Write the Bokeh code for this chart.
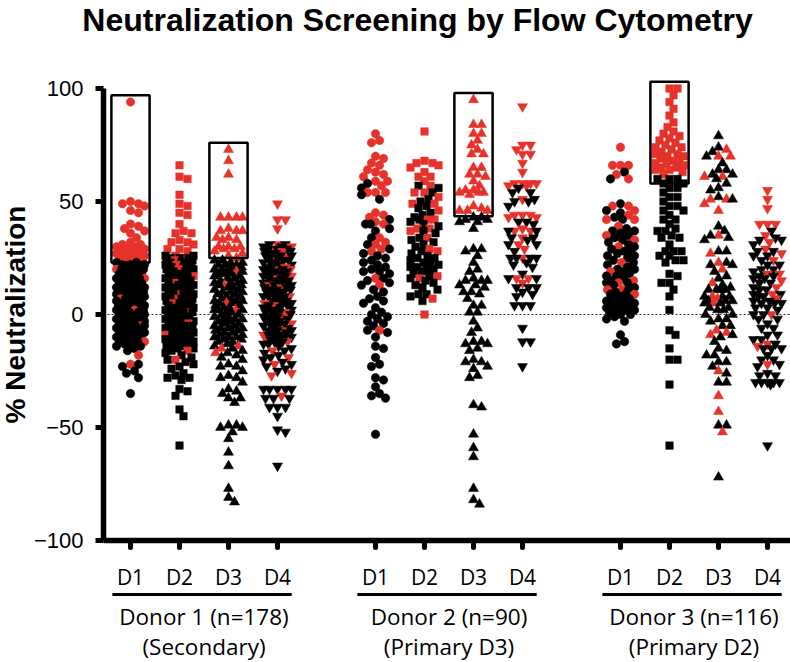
import numpy as np
from bokeh.plotting import figure
from bokeh.models import Range1d, FixedTicker, ColumnDataSource, LinearAxis
from bokeh.core.properties import value
from bokeh.embed import file_html
from bokeh.resources import INLINE

# ---------------- data ----------------
categories = ["D1", "D2", "D3", "D4"]
donor_names = ["Donor 1 (n=178)", "Donor 2 (n=90)", "Donor 3 (n=116)"]
donor_sub = ["(Secondary)", "(Primary D3)", "(Primary D2)"]
title_text = "Neutralization Screening by Flow Cytometry"
y_ticks = [-100, -50, 0, 50, 100]

# Donor 1
d1_D1_red = [94, 50, 49, 49, 48, 46, 45, 40, 39, 38, 37, 36, 34, 32, 31, 31, 30, 30, 29, 29, 28, 28, 27, 27, 26, 26, 25, 25, 24, 24, 23, 20, 16, 7, 2, -5, -12, -18, -22]
d1_D1_black = [23, 23, 22, 22, 22, 21, 21, 20, 20, 20, 19, 19, 18, 18, 18, 17, 17, 16, 16, 16, 15, 15, 14, 14, 14, 13, 13, 12, 12, 12, 11, 11, 10, 10, 10, 9, 9, 8, 8, 8, 7, 7, 6, 6, 6, 5, 5, 4, 4, 4, 3, 3, 2, 2, 2, 1, 1, 0, 0, 0, -1, -1, -2, -2, -2, -3, -3, -4, -4, -4, -5, -5, -6, -6, -6, -7, -7, -8, -8, -8, -9, -9, -10, -10, -10, -11, -11, -12, -12, -13, -13, -14, -14, -15, -16, -22, -23, -25, -26, -28, -35]
d1_D2_red = [66, 61, 60, 53, 49, 48, 45, 44, 40, 37, 36, 36, 33, 32, 32, 31, 29, 29, 28, 26, 25, 24, 22, 20, 17, 14, 9, 7, 5, 1, -4, -9, -16, -20]
d1_D2_black = [26, 26, 25, 25, 25, 24, 24, 23, 23, 23, 22, 22, 21, 21, 21, 20, 20, 19, 19, 19, 18, 18, 17, 17, 17, 16, 16, 15, 15, 15, 14, 14, 13, 13, 13, 12, 12, 11, 11, 11, 10, 10, 9, 9, 9, 8, 8, 7, 7, 7, 6, 6, 5, 5, 5, 4, 4, 3, 3, 3, 2, 2, 1, 1, 1, 0, 0, -1, -1, -1, -2, -2, -3, -3, -3, -4, -4, -5, -5, -5, -6, -6, -7, -7, -7, -8, -8, -9, -9, -9, -10, -10, -11, -11, -11, -12, -12, -13, -13, -14, -14, -15, -15, -16, -17, -18, -19, -20, -21, -22, -23, -24, -26, -27, -28, -28, -29, -33, -34, -36, -42, -45, -58]
d1_D3_red = [73, 68, 62, 43, 43, 43, 43, 38, 37, 37, 37, 34, 34, 33, 33, 30, 30, 30, 29, 29, 28, 27, 26, 25, 19, 13, 5, 2, -14, -15, -17]
d1_D3_black = [24, 24, 23, 23, 22, 22, 22, 21, 21, 20, 20, 19, 19, 18, 18, 18, 17, 17, 16, 16, 15, 15, 14, 14, 14, 13, 13, 12, 12, 11, 11, 10, 10, 10, 9, 9, 8, 8, 7, 7, 6, 6, 6, 5, 5, 4, 4, 3, 3, 2, 2, 2, 1, 1, 0, 0, -1, -1, -2, -2, -2, -3, -3, -4, -4, -5, -5, -6, -6, -6, -7, -7, -8, -8, -9, -9, -10, -10, -10, -11, -11, -12, -12, -13, -14, -15, -16, -17, -18, -19, -20, -22, -23, -23, -25, -27, -28, -28, -30, -33, -34, -35, -37, -37, -39, -49, -49, -50, -50, -52, -55, -61, -67, -77, -81, -83]
d1_D4_red = [49, 42, 42, 38, 31, 30, 29, 28, 26, 25, 21, 20, 20, 17, 16, 13, 12, 8, 5, 4, 1, -1, -4, -7, -9, -11, -12, -16, -19, -22, -26, -27, -36]
d1_D4_black = [31, 31, 30, 30, 29, 29, 29, 28, 28, 27, 27, 26, 26, 26, 25, 25, 24, 24, 23, 23, 23, 22, 22, 21, 21, 20, 20, 20, 19, 19, 18, 18, 17, 17, 17, 16, 16, 15, 15, 14, 14, 14, 13, 13, 12, 12, 11, 11, 11, 10, 10, 9, 9, 8, 8, 8, 7, 7, 6, 6, 5, 5, 5, 4, 4, 3, 3, 2, 2, 2, 1, 1, 0, 0, -1, -1, -1, -2, -2, -3, -3, -4, -4, -4, -5, -5, -6, -6, -7, -7, -7, -8, -8, -9, -9, -10, -10, -10, -11, -11, -12, -12, -13, -13, -14, -15, -16, -17, -18, -19, -20, -21, -22, -23, -24, -25, -33, -33, -33, -33, -33, -37, -37, -37, -41, -41, -41, -45, -51, -52, -67]

# Donor 2
d2_D1_red = [80, 77, 76, 70, 69, 67, 66, 64, 63, 62, 61, 59, 59, 57, 54, 54, 54, 45, 44, 43, 41, 40, 34, 32, 31, 29, 28, 16, 13, -7]
d2_D1_black = [58, 56, 53, 51, 42, 40, 40, 38, 37, 34, 31, 29, 27, 26, 25, 24, 23, 22, 21, 20, 19, 19, 18, 16, 15, 14, 13, 11, 10, 8, 7, 6, 5, 3, 1, 0, -1, -2, -3, -4, -5, -7, -8, -10, -14, -15, -19, -22, -23, -28, -29, -32, -35, -36, -37, -53]
d2_D2_red = [81, 68, 67, 67, 66, 65, 63, 61, 61, 59, 57, 54, 54, 52, 49, 49, 46, 42, 42, 38, 38, 37, 34, 29, 28, 17, 16, 7, 0]
d2_D2_black = [57, 56, 54, 51, 50, 48, 47, 45, 44, 43, 42, 41, 40, 39, 37, 36, 34, 33, 32, 31, 30, 28, 27, 26, 25, 25, 24, 23, 23, 22, 21, 21, 20, 20, 19, 18, 17, 16, 15, 14, 13, 12, 11, 9, 9, 8, 6]
d2_D3_red = [95, 84, 84, 80, 80, 77, 75, 73, 71, 71, 65, 65, 62, 62, 61, 59, 57, 55, 55, 54, 54, 54, 53, 48, 47, 46, 46, 46]
d2_D3_black = [43, 43, 42, 42, 41, 41, 38, 29, 29, 28, 26, 23, 20, 19, 16, 15, 15, 15, 13, 13, 12, 10, 10, 9, 7, 4, 4, 1, 1, -3, -6, -8, -12, -12, -13, -13, -15, -16, -20, -21, -21, -23, -24, -27, -28, -40, -41, -53, -59, -63, -77, -82, -84]
d2_D4_red = [92, 75, 75, 73, 71, 71, 67, 63, 58, 58, 58, 58, 57, 57, 51, 44, 44, 44, 43, 43, 38, 37, 37, 34, 31, 29, 25, 16, 16, 14]
d2_D4_black = [56, 54, 54, 51, 50, 50, 48, 41, 41, 40, 37, 37, 34, 34, 33, 31, 31, 28, 25, 25, 25, 25, 23, 22, 21, 18, 16, 16, 12, 12, 12, 10, 9, 8, 4, 4, 4, -6, -12, -12, -23]

# Donor 3
d3_D1_red = [74, 66, 66, 66, 62, 60, 48, 48, 46, 44, 42, 42, 39, 35, 33, 30, 23, 19, 15, 14, 11, 11, 9]
d3_D1_black = [63, 60, 49, 46, 45, 43, 42, 38, 37, 37, 36, 35, 34, 33, 32, 31, 30, 29, 28, 28, 27, 26, 26, 25, 24, 23, 22, 21, 20, 20, 19, 18, 17, 17, 16, 15, 14, 14, 13, 12, 11, 10, 9, 9, 8, 8, 7, 6, 6, 5, 5, 5, 4, 3, 3, 2, 2, 2, 1, 0, 0, -1, -2, -3, -9, -12, -13]
d3_D2_red = [100, 100, 97, 94, 91, 88, 85, 83, 81, 80, 79, 78, 77, 76, 75, 74, 74, 73, 72, 71, 71, 70, 70, 69, 68, 68, 67, 67, 66, 65, 65, 64, 64, 63, 62]
d3_D2_black = [60, 60, 60, 58, 58, 56, 56, 54, 52, 52, 50, 48, 48, 46, 46, 44, 42, 42, 40, 38, 37, 37, 35, 34, 34, 31, 28, 28, 28, 26, 26, 24, 24, 23, 18, 17, 14, 14, 11, 8, 2, -7, -9, -15, -20, -20, -31, -58]
d3_D3_red = [73, 70, 70, 61, 61, 51, 51, 49, 46, 35, 27, 23, 20, 14, 8, 7, 5, -7, -8, -9, -25, -36, -43, -52]
d3_D3_black = [79, 74, 72, 70, 67, 64, 64, 62, 62, 60, 58, 56, 55, 52, 51, 39, 37, 35, 34, 33, 28, 28, 23, 22, 22, 19, 17, 16, 13, 12, 11, 11, 11, 11, 8, 8, 8, 6, 6, 6, 5, 5, 3, 3, 2, 2, 0, 0, -2, -2, -3, -5, -5, -9, -10, -12, -15, -16, -18, -18, -21, -21, -23, -26, -30, -30, -49, -49, -72]
d3_D4_red = [55, 51, 47, 40, 40, 40, 35, 32, 29, 27, 24, 18, 18, 15, 12, 9, 7, 0, -13, -14, -22]
d3_D4_black = [37, 34, 33, 33, 31, 28, 28, 26, 26, 24, 22, 22, 20, 20, 19, 17, 17, 16, 16, 14, 14, 12, 11, 11, 9, 9, 8, 8, 6, 6, 5, 5, 5, 3, 3, 2, 0, 0, -2, -2, -4, -6, -6, -9, -9, -11, -11, -13, -15, -15, -15, -18, -20, -20, -22, -23, -26, -27, -27, -30, -30, -30, -30, -30, -31, -58]

# selection boxes: (donor index, category index, low, high)
box_donor = [0, 0, 1, 2]
box_cat = [0, 2, 2, 1]
box_low = [23, 25, 43.5, 58]
box_high = [97, 76, 98, 103]

# ---------------- layout ----------------
RED = "#e5322a"
W, H = 790, 662
ppx = 49.0
ppy = 2.26
X0 = 1 - 130 / ppx            # value at the left edge of the canvas
X1 = X0 + W / ppx
XA = 1 - (130 - 103) / ppx    # where the y axis sits
Y1 = 314 / ppy                # value at the top of the canvas
Y0 = Y1 - H / ppy             # value at the bottom of the canvas


def yval(py):
    return Y1 - py / ppy


def xval(px):
    return X0 + px / ppx


columns = [
    [(d1_D1_red, d1_D1_black), (d1_D2_red, d1_D2_black), (d1_D3_red, d1_D3_black), (d1_D4_red, d1_D4_black)],
    [(d2_D1_red, d2_D1_black), (d2_D2_red, d2_D2_black), (d2_D3_red, d2_D3_black), (d2_D4_red, d2_D4_black)],
    [(d3_D1_red, d3_D1_black), (d3_D2_red, d3_D2_black), (d3_D3_red, d3_D3_black), (d3_D4_red, d3_D4_black)],
]
markers = ["circle", "square", "triangle", "inverted_triangle"]
msize = {"circle": 8.5, "square": 7.5, "triangle": 10, "inverted_triangle": 10}


def xpos(g, c):
    return 1 + 5 * g + c


def swarm(vals, dmin=7.5, wmax=14):
    order = sorted(range(len(vals)), key=lambda i: -vals[i])
    cands = [0]
    for k in range(1, wmax + 1):
        cands += [k, -k]
    placed = []
    res = [0.0] * len(vals)
    for i in order:
        y = vals[i] * ppy
        near = [(px, py) for (px, py) in placed if abs(py - y) < dmin]
        chosen = None
        for c in cands:
            if all((c - px) ** 2 + (y - py) ** 2 >= dmin * dmin for px, py in near):
                chosen = c
                break
        if chosen is None:
            chosen = max(cands, key=lambda c: min((c - px) ** 2 + (y - py) ** 2 for px, py in near))
        placed.append((chosen, y))
        res[i] = chosen
    return order, res


p = figure(width=W, height=H, x_range=Range1d(X0, X1), y_range=Range1d(Y0, Y1),
           output_backend="svg", toolbar_location=None, x_axis_location=None, y_axis_location=None,
           min_border_left=0, min_border_right=0, min_border_top=0, min_border_bottom=0)
p.outline_line_color = None
p.grid.visible = False
p.background_fill_color = "white"

# zero reference line, from the y axis to the right edge
p.segment(x0=[XA], x1=[X1], y0=[0], y1=[0], line_color="#333333", line_width=1.1, line_dash="2 2")

for g in range(3):
    for c in range(4):
        red, black = columns[g][c]
        vals = list(red) + list(black)
        cols = [RED] * len(red) + ["black"] * len(black)
        order, offs = swarm(vals)
        xs = [xpos(g, c) + offs[i] / ppx for i in order]
        ys = [vals[i] for i in order]
        cc = [cols[i] for i in order]
        src = ColumnDataSource(dict(x=xs, y=ys, color=cc))
        m = markers[c]
        p.scatter("x", "y", source=src, marker=m, size=msize[m], fill_color="color", line_color="color", line_width=0.5)

# boxes
bl = [xpos(g, c) - 0.39 for g, c in zip(box_donor, box_cat)]
br = [xpos(g, c) + 0.39 for g, c in zip(box_donor, box_cat)]
p.quad(left=bl, right=br, bottom=box_low, top=box_high, fill_color=None, line_color="black", line_width=2.5)

# y axis at its fixed place
ya = LinearAxis(fixed_location=XA)
ya.ticker = FixedTicker(ticks=y_ticks)
ya.bounds = (-100, 100)
ya.axis_line_width = 5.5
ya.major_tick_line_width = 5
ya.major_tick_out = 8
ya.major_tick_in = 0
ya.minor_tick_line_color = None
ya.major_label_text_font = "Liberation Sans"
ya.major_label_text_font_size = "22px"
ya.major_label_text_color = "black"
ya.major_label_standoff = 12
ya.axis_label = "% Neutralization"
ya.axis_label_text_font = "Liberation Sans"
ya.axis_label_text_font_style = "bold"
ya.axis_label_text_font_size = "28px"
ya.axis_label_text_color = "black"
ya.axis_label_standoff = 0
p.add_layout(ya, "left")

# x axis placed at y = -100
ticks = [xpos(g, c) for g in range(3) for c in range(4)]
xa = LinearAxis(fixed_location=-100)
xa.ticker = FixedTicker(ticks=ticks)
xa.bounds = (XA, X1)
xa.major_label_overrides = {xpos(g, c): categories[c] for g in range(3) for c in range(4)}
xa.axis_line_width = 5.5
xa.major_tick_line_width = 5
xa.major_tick_line_cap = "round"
xa.major_tick_out = 7
xa.major_tick_in = 0
xa.minor_tick_line_color = None
xa.major_label_text_font = "Open Sans"
xa.major_label_text_font_size = "21px"
xa.major_label_text_color = "black"
xa.major_label_standoff = 15
p.add_layout(xa, "below")

# group underline and labels
gl = [xpos(g, 0) - 0.37 for g in range(3)]
gr = [xpos(g, 3) + 0.29 for g in range(3)]
gc = [(xpos(g, 0) + xpos(g, 3)) / 2 for g in range(3)]
p.segment(x0=gl, x1=gr, y0=[yval(594)] * 3, y1=[yval(594)] * 3, line_width=3, line_color="black")
p.text(x=gc, y=[yval(616)] * 3, text=donor_names, text_align="center", text_baseline="middle",
       text_font=value("Open Sans"), text_font_size="22.5px", text_color="black")
p.text(x=gc, y=[yval(646)] * 3, text=donor_sub, text_align="center", text_baseline="middle",
       text_font=value("Open Sans"), text_font_size="22.5px", text_color="black")

# title
p.text(x=[xval(417)], y=[yval(19.5)], text=[title_text], text_align="center", text_baseline="middle",
       text_font=value("Liberation Sans"), text_font_style="bold", text_font_size="32px", text_color="black")

open("out.html", "w").write(file_html(p, INLINE))
